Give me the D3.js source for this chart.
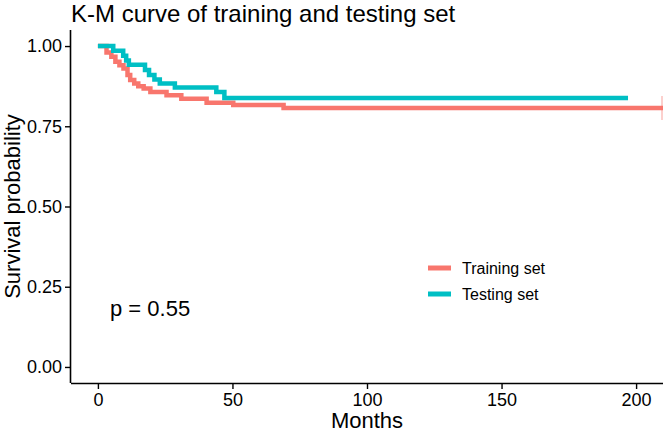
<!DOCTYPE html>
<html><head><meta charset="utf-8">
<script src="https://cdn.jsdelivr.net/npm/d3@7"></script>
<style>body{margin:0;background:#fff}svg{display:block;font-family:"Liberation Sans",Arial,sans-serif}</style>
</head><body><svg id="c" width="666" height="432"></svg>
<script>
// Data
const seriesNames = ["Training set", "Testing set"];
const seriesColors = ["#F8766D", "#00BFC4"];
const trainTimes = [0, 3.2, 5, 6.5, 8, 9.5, 11, 12, 13.5, 15, 17, 19.5, 25.5, 31, 40.4, 50.3, 69, 210];
const trainSurv  = [1.0, 0.98, 0.967, 0.951, 0.94, 0.93, 0.91, 0.894, 0.883, 0.875, 0.868, 0.857, 0.847, 0.836, 0.823, 0.816, 0.807, 0.807];
const testTimes  = [0, 5.7, 9.4, 10.5, 11.5, 17.5, 19, 21, 23, 28.6, 44, 47, 197];
const testSurv   = [1.0, 0.985, 0.97, 0.955, 0.942, 0.925, 0.91, 0.896, 0.883, 0.871, 0.857, 0.838, 0.838];
const xTicks = [0, 50, 100, 150, 200];
const yTicks = [0, 0.25, 0.5, 0.75, 1];
const pLabel = "p = 0.55";

const svg = d3.select("#c");
const L = 71, R = 663, T = 30, B = 383;
const x = d3.scaleLinear().domain([-10, 210]).range([L, R]);
const y = d3.scaleLinear().domain([-0.05, 1.05]).range([B, T]);

// title
svg.append("text").attr("x", 71).attr("y", 22).attr("font-size", 24).attr("fill", "#000")
  .text("K-M curve of training and testing set");

// curves
const line = d3.line().x(d => x(d[0])).y(d => y(d[1])).curve(d3.curveStepAfter);
const series = [
  {t: trainTimes, s: trainSurv},
  {t: testTimes, s: testSurv}
];
const g = svg.append("g");
series.forEach((ser, i) => {
  const pts = ser.t.map((t, j) => [t, ser.s[j]]);
  g.append("path").datum(pts).attr("d", line).attr("fill", "none")
    .attr("stroke", seriesColors[i]).attr("stroke-width", 4.5);
});
// censor mark at end of training curve
g.append("line").attr("x1", x(210) - 1).attr("x2", x(210) - 1)
  .attr("y1", y(trainSurv[trainSurv.length - 1]) - 12).attr("y2", y(trainSurv[trainSurv.length - 1]) + 12)
  .attr("stroke", seriesColors[0]).attr("stroke-width", 1.5).attr("opacity", 0.45);

// axes
const xAxis = svg.append("g").attr("transform", `translate(0,${B})`)
  .call(d3.axisBottom(x).tickValues(xTicks).tickSize(6).tickPadding(4).tickFormat(d3.format("d")));
const yAxis = svg.append("g").attr("transform", `translate(${L},0)`)
  .call(d3.axisLeft(y).tickValues(yTicks).tickSize(6).tickPadding(3).tickFormat(d3.format(".2f")));
[xAxis, yAxis].forEach(a => {
  a.select(".domain").attr("stroke", "#000").attr("stroke-width", 1.6);
  a.selectAll(".tick line").attr("stroke", "#000").attr("stroke-width", 1.4);
  a.selectAll(".tick text").attr("fill", "#000").attr("font-size", 18)
    .attr("font-family", "Liberation Sans, Arial, sans-serif");
});
xAxis.select(".domain").attr("d", `M${L},0.5H${R}`);
yAxis.select(".domain").attr("d", `M-0.5,${T}V${B}`);

// axis titles
svg.append("text").attr("x", (L + R) / 2).attr("y", 428).attr("text-anchor", "middle")
  .attr("font-size", 22).text("Months");
svg.append("text").attr("transform", `translate(20,${(T + B) / 2}) rotate(-90)`)
  .attr("text-anchor", "middle").attr("font-size", 22).text("Survival probability");

// p value
svg.append("text").attr("x", 110).attr("y", y(0.185) + 8).attr("font-size", 22).text(pLabel);

// legend
const leg = svg.append("g");
seriesNames.forEach((n, i) => {
  const yy = 268 + i * 26;
  leg.append("line").attr("x1", 428).attr("x2", 451).attr("y1", yy).attr("y2", yy)
    .attr("stroke", seriesColors[i]).attr("stroke-width", 5);
  leg.append("text").attr("x", 462).attr("y", yy + 6).attr("font-size", 16).text(n);
});
</script></body></html>
